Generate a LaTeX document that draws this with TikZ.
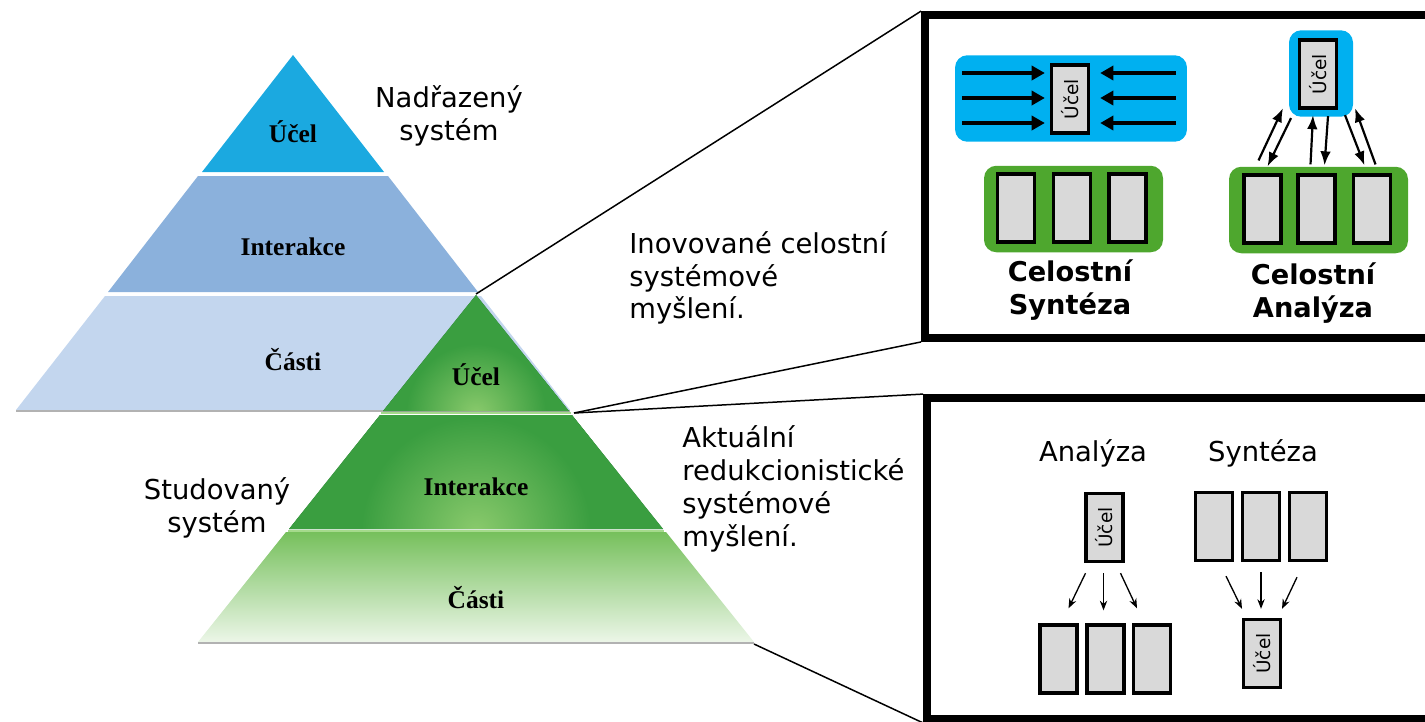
\documentclass[tikz,border=0pt]{standalone}
\usepackage{fontspec}
\setmainfont{DejaVu Sans}
\newfontfamily\pyrfont{Liberation Serif}
\usetikzlibrary{arrows.meta,positioning}

\definecolor{blueTop}{RGB}{27,169,224}
\definecolor{blueMid}{RGB}{139,177,220}
\definecolor{blueBot}{RGB}{195,214,238}
\definecolor{greenDark}{RGB}{28,105,42}
\definecolor{greenMid}{RGB}{58,158,64}
\definecolor{greenLight}{RGB}{138,202,108}
\definecolor{greenTop}{RGB}{118,192,92}
\definecolor{greenPale}{RGB}{236,246,232}
\definecolor{greenEdge}{RGB}{165,218,140}
\definecolor{cyanBox}{RGB}{0,176,240}
\definecolor{greenBox}{RGB}{78,167,46}
\definecolor{partGray}{RGB}{217,217,217}

\pgfdeclareradialshading{glow}{\pgfpoint{0bp}{0bp}}{color(0bp)=(greenLight); color(14bp)=(greenMid); color(32bp)=(greenMid); color(50bp)=(greenDark)}

\begin{document}
\begin{tikzpicture}[x=0.02cm, y=-0.02cm, >=Stealth,
    txt/.style={font=\fontsize{15.6}{18.7}\selectfont, inner sep=0pt},
    boldtxt/.style={font=\bfseries\fontsize{15.5}{19.3}\selectfont, inner sep=0pt},
    pyr/.style={font=\pyrfont\bfseries\fontsize{14.5}{16}\selectfont},
    frame/.style={draw, line width=4.5pt, inner sep=0pt},
    group/.style={rounded corners=7pt, inner sep=0pt, minimum height=1.73cm},
    part/.style={draw, line width=1.9pt, fill=partGray, minimum width=0.74cm,
        minimum height=1.36cm, inner sep=0pt, font=\fontsize{10.5}{12}\selectfont},
    fat/.style={-{Triangle[length=7.5pt,width=8pt]}, line width=2pt},
    mid/.style={-{Latex[length=8pt,width=6pt]}, line width=1.25pt},
    slim/.style={-{Stealth[length=5.5pt,width=4.2pt]}, line width=0.75pt},
    link/.style={line width=0.85pt}]
    \useasboundingbox (0,0) rectangle (1425,721);
    \clip (0,0) rectangle (1425,721);

    % Superior system {blue pyramid}
    \fill[blueTop] (293,55) -- (384,172) -- (202,172) -- cycle;
    \fill[blueMid] (198,176) -- (388,176) -- (478,292) -- (108,292) -- cycle;
    \fill[blueBot] (105,296) -- (481,296) -- (570,410) -- (16,410) -- cycle;
    \draw[gray!60, line width=1pt] (16,411) -- (570,411);
    \node[pyr] (bucel)  at (293,132) {Účel};
    \node[pyr] (binter) at (293,247) {Interakce};
    \node[pyr] (bparts) at (293,360) {Části};

    % Studied system {green pyramid}
    \begin{scope}
        \clip (476,295) -- (569,411) -- (383,411) -- cycle;
        \fill[greenDark] (370,290) rectangle (580,415);
        \shade[shading=glow] (476,414) circle (125);
    \end{scope}
    \begin{scope}
        \clip (380,415) -- (572,415) -- (663,529) -- (289,529) -- cycle;
        \fill[greenDark] (280,410) rectangle (670,535);
        \shade[shading=glow] (476,532) circle (205);
    \end{scope}
    \shade[top color=greenTop, bottom color=greenPale]
        (286,532) -- (666,532) -- (754,642) -- (198,642) -- cycle;
    \draw[greenEdge, line width=1.3pt] (381,413) -- (571,413);
    \draw[greenEdge, line width=1.3pt] (288,531) -- (664,531);
    \draw[gray!60, line width=1pt] (198,643) -- (754,643);
    \node[pyr] (gucel)  at (476,375) {Účel};
    \node[pyr] (ginter) at (476,487) {Interakce};
    \node[pyr] (gparts) at (476,598) {Části};

    % Side texts
    \node[txt, align=center] (superior) at (449,116) {Nadřazený\\systém};
    \node[txt, align=center] (studied)  at (217,508) {Studovaný\\systém};
    \node[txt, align=left, anchor=west] (holistic) at (629,278)
        {Inovované celostní\\systémové\\myšlení.};
    \node[txt, align=left, anchor=west] (reduct) at (682,489)
        {Aktuální\\redukcionistické\\systémové\\myšlení.};

    % Frames
    \node[frame, minimum width=10.3cm, minimum height=6.46cm] (topframe) at (1182.5,176.5) {};
    \node[frame, minimum width=10.26cm, minimum height=6.42cm] (botframe) at (1183.5,558.5) {};

    % Links from the pyramid
    \coordinate (gapex) at (476,294);
    \coordinate (gmidr) at (574,413);
    \coordinate (gbase) at (754,644);
    \draw[link] (gapex) -- (topframe.north west);
    \draw[link] (gmidr) -- (topframe.south west);
    \draw[link] (gmidr) -- (botframe.north west);
    \draw[link] (gbase) -- (botframe.south west);

    % Holistic synthesis
    \node[group, fill=cyanBox, minimum width=4.64cm] (synblue) at (1071,98.5) {};
    \node[part] (sucel) at (1070,99) {\rotatebox{90}{Účel}};
    \foreach \dy in {-26,-1,24} {
        \draw[fat] ([shift={(-88,\dy)}]sucel.west) -- ([shift={(-5,\dy)}]sucel.west);
        \draw[fat] ([shift={(86,\dy)}]sucel.east) -- ([shift={(10,\dy)}]sucel.east);
    }
    \node[group, fill=greenBox, minimum width=3.58cm] (syngreen) at (1073.5,209) {};
    \node[part] (sp2) at (1072,208) {};
    \node[part] (sp1) [left of=sp2, node distance=1.12cm] {};
    \node[part] (sp3) [right of=sp2, node distance=1.11cm] {};
    \node[boldtxt, align=center] (synlbl) at (1070,290) {Celostní\\Syntéza};

    % Holistic analysis
    \node[group, fill=cyanBox, minimum width=1.28cm] (anblue) at (1321,73.5) {};
    \node[part] (aucel) at (1318,74) {\rotatebox{90}{Účel}};
    \node[group, fill=greenBox, minimum width=3.58cm] (angreen) at (1318.5,210) {};
    \node[part] (ap2) at (1316.5,209) {};
    \node[part] (ap1) [left of=ap2, node distance=1.08cm] {};
    \node[part] (ap3) [right of=ap2, node distance=1.11cm] {};
    \node[boldtxt, align=center] (anlbl) at (1313,293) {Celostní\\Analýza};
    \draw[mid] ([shift={(-60,-6)}]angreen.north) -- ([shift={(-38,-9)}]anblue.south);
    \draw[mid] ([shift={(-30,1)}]anblue.south)   -- ([shift={(-51,0)}]angreen.north);
    \draw[mid] ([shift={(-8,-2)}]angreen.north)  -- ([shift={(-8,-2)}]anblue.south);
    \draw[mid] ([shift={(7,-1)}]anblue.south)    -- ([shift={(6,-1)}]angreen.north);
    \draw[mid] ([shift={(24,-2)}]anblue.south)   -- ([shift={(46,-1)}]angreen.north);
    \draw[mid] ([shift={(57,-2)}]angreen.north)  -- ([shift={(34,-9)}]anblue.south);

    % Reductionist analysis
    \node[txt] (redan) at (1093,453) {Analýza};
    \node[part] (rucel) at (1104.5,527.5) {\rotatebox{90}{Účel}};
    \node[part] (rp2) at (1105.5,659) {};
    \node[part] (rp1) [left of=rp2, node distance=0.94cm] {};
    \node[part] (rp3) [right of=rp2, node distance=0.93cm] {};
    \draw[slim] ([shift={(-19,10)}]rucel.south) -- ([shift={(10,-15)}]rp1.north);
    \draw[slim] ([shift={(-1,10)}]rucel.south)  -- ([shift={(-2,-13)}]rp2.north);
    \draw[slim] ([shift={(16,10)}]rucel.south)  -- ([shift={(-15,-15)}]rp3.north);

    % Reductionist synthesis
    \node[txt] (redsyn) at (1263,453) {Syntéza};
    \node[part] (yp2) at (1261,526.5) {};
    \node[part] (yp1) [left of=yp2, node distance=0.94cm] {};
    \node[part] (yp3) [right of=yp2, node distance=0.94cm] {};
    \node[part] (yucel) at (1262,653.5) {\rotatebox{90}{Účel}};
    \draw[slim] ([shift={(12,14)}]yp1.south)  -- ([shift={(-20,-9)}]yucel.north);
    \draw[slim] ([shift={(0,10)}]yp2.south)   -- ([shift={(-1,-9)}]yucel.north);
    \draw[slim] ([shift={(-11,15)}]yp3.south) -- ([shift={(20,-9)}]yucel.north);
\end{tikzpicture}
\end{document}
